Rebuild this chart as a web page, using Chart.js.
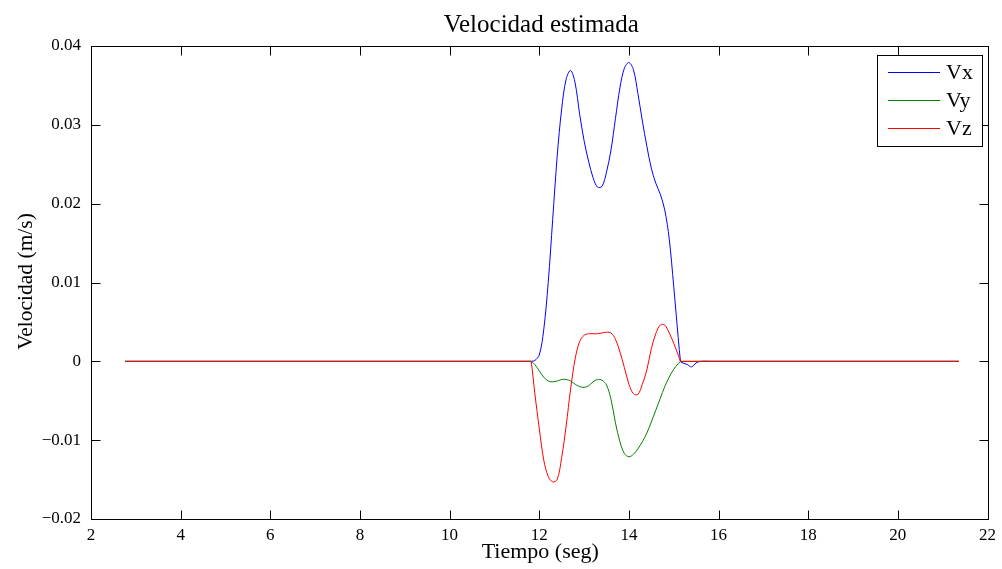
<!DOCTYPE html>
<html>
<head>
<meta charset="utf-8">
<script src="https://cdn.jsdelivr.net/npm/chart.js@4.4.1/dist/chart.umd.min.js"></script>
<style>
html,body{margin:0;padding:0;background:#fff;}
#wrap{width:1002px;height:569px;position:relative;}
</style>
</head>
<body>
<div id="wrap"><canvas id="c" width="1002" height="569"></canvas></div>
<script>
// ---- data ----
const time = [2.76, 11.6, 11.8, 11.82, 11.9, 12.0, 12.1, 12.2, 12.3, 12.4, 12.5, 12.6, 12.7, 12.8, 12.9, 13.0, 13.1, 13.2, 13.3, 13.4, 13.5, 13.6, 13.7, 13.8, 13.9, 14.0, 14.1, 14.2, 14.3, 14.4, 14.5, 14.6, 14.7, 14.8, 14.9, 15.0, 15.1, 15.15, 15.16, 15.3, 15.4, 15.5, 15.6, 15.8, 21.36];
const vx = [0, 0, 0, 0, 0.0001, 0.0008, 0.004, 0.010, 0.018, 0.026, 0.032, 0.0358, 0.0369, 0.0353, 0.0314, 0.0280, 0.0254, 0.0233, 0.0221, 0.0222, 0.0240, 0.0268, 0.0308, 0.0347, 0.0372, 0.0379, 0.0370, 0.034, 0.0305, 0.0273, 0.0245, 0.0226, 0.0212, 0.0192, 0.0155, 0.0095, 0.003, 0, -0.0001, -0.0004, -0.0007, -0.0002, 0, 0, 0];
const vy = [0, 0, 0, 0, -0.0004, -0.0012, -0.002, -0.0025, -0.0026, -0.0025, -0.0023, -0.0023, -0.0025, -0.0029, -0.0032, -0.0033, -0.0031, -0.0026, -0.0023, -0.0024, -0.003, -0.0048, -0.0078, -0.0102, -0.0117, -0.0121, -0.0118, -0.0111, -0.0102, -0.0091, -0.0077, -0.0062, -0.0047, -0.0032, -0.002, -0.001, -0.0003, 0, 0, 0, 0, 0, 0, 0, 0];
const vz = [0, 0, 0, 0, -0.004, -0.0085, -0.0125, -0.0146, -0.0153, -0.0150, -0.0122, -0.0082, -0.0035, 0.0003, 0.0025, 0.0033, 0.0035, 0.0035, 0.0035, 0.0036, 0.0037, 0.0036, 0.0028, 0.0012, -0.0008, -0.0029, -0.0041, -0.0042, -0.0029, -0.0011, 0.0016, 0.0035, 0.0046, 0.0046, 0.0036, 0.0023, 0.0008, 0, 0, 0, 0, 0, 0, 0, 0];
const seriesNames = ['Vx', 'Vy', 'Vz'];
const xTickValues = [2, 4, 6, 8, 10, 12, 14, 16, 18, 20, 22];
const yTickValues = [-0.02, -0.01, 0, 0.01, 0.02, 0.03, 0.04];
const yTickLabels = ['\u22120.02', '\u22120.01', '0', '0.01', '0.02', '0.03', '0.04'];
const chartTitle = 'Velocidad estimada';
const xTitle = 'Tiempo (seg)';
const yTitle = 'Velocidad (m/s)';

const colors = ['#0000ff', '#008000', '#ff0000'];
const drawOrder = [2, 1, 0]; // Vz drawn on top, as in the reference
const FONT = '"Liberation Serif", "DejaVu Serif", serif';

function pts(vals){ return time.map((t,i)=>({x:t, y:vals[i]})); }
const datasets = [vx, vy, vz].map((v,i)=>({
  label: seriesNames[i],
  data: pts(v),
  borderColor: colors[i],
  backgroundColor: colors[i],
  borderWidth: 1,
  pointRadius: 0,
  fill: false,
  order: drawOrder[i],
  tension: 0.35
}));

const chrome = {
  id: 'chrome',
  afterDraw(chart){
    const ctx = chart.ctx;
    const a = chart.chartArea;
    const xs = chart.scales.x, ys = chart.scales.y;
    ctx.save();
    ctx.strokeStyle = '#000';
    ctx.lineWidth = 1;
    const L = Math.round(a.left)+0.5, R = Math.round(a.right)+0.5, T = Math.round(a.top)+0.5, B = Math.round(a.bottom)+0.5;
    ctx.strokeRect(L, T, R-L, B-T);
    const tl = 9;
    ctx.beginPath();
    xTickValues.forEach(v=>{
      const px = Math.round(xs.getPixelForValue(v))+0.5;
      ctx.moveTo(px, B); ctx.lineTo(px, B-tl);
      ctx.moveTo(px, T); ctx.lineTo(px, T+tl);
    });
    yTickValues.forEach(v=>{
      const py = Math.round(ys.getPixelForValue(v))+0.5;
      ctx.moveTo(L, py); ctx.lineTo(L+tl, py);
      ctx.moveTo(R, py); ctx.lineTo(R-tl, py);
    });
    ctx.stroke();
    // titles
    ctx.fillStyle = '#000';
    ctx.textAlign = 'center';
    ctx.textBaseline = 'alphabetic';
    ctx.font = '25px ' + FONT;
    ctx.fillText(chartTitle, (a.left+a.right)/2 + 2, 32);
    ctx.font = '22px ' + FONT;
    ctx.fillText(xTitle, (a.left+a.right)/2 + 1, 558);
    ctx.save();
    ctx.font = '21.5px ' + FONT;
    ctx.translate(32, (a.top+a.bottom)/2 - 1);
    ctx.rotate(-Math.PI/2);
    ctx.fillText(yTitle, 0, 0);
    ctx.restore();
    // legend
    const lx = 877.5, ly = 55.5, lw = 105, lh = 91;
    ctx.fillStyle = '#fff';
    ctx.fillRect(lx, ly, lw, lh);
    ctx.strokeStyle = '#000';
    ctx.strokeRect(lx, ly, lw, lh);
    ctx.font = '22px ' + FONT;
    ctx.textAlign = 'left';
    ctx.textBaseline = 'middle';
    chart.data.datasets.forEach((d,i)=>{
      const y = 72 + i*28;
      ctx.strokeStyle = d.borderColor;
      ctx.beginPath();
      ctx.moveTo(888, y+0.5); ctx.lineTo(940, y+0.5);
      ctx.stroke();
      ctx.fillStyle = '#000';
      ctx.fillText(d.label, 946, y+1);
    });
    ctx.restore();
  }
};

new Chart(document.getElementById('c'), {
  type: 'line',
  data: { datasets },
  options: {
    responsive: false,
    animation: false,
    devicePixelRatio: 1,
    layout: { padding: { left: 0, right: 11, top: 46, bottom: 0 } },
    plugins: { legend: { display: false }, title: { display: false }, tooltip: { enabled: false } },
    scales: {
      x: {
        type: 'linear', min: 2, max: 22,
        afterBuildTicks(s){ s.ticks = xTickValues.map(v=>({value:v})); },
        afterFit(s){ s.height = 50; },
        grid: { display: false, drawTicks: false },
        border: { display: false },
        ticks: { color: '#000', font: { family: FONT, size: 17 }, padding: 6, maxRotation: 0, autoSkip: false,
          callback: v => String(v) }
      },
      y: {
        type: 'linear', min: -0.02, max: 0.04,
        afterBuildTicks(s){ s.ticks = yTickValues.map(v=>({value:v})); },
        afterFit(s){ s.width = 91; },
        grid: { display: false, drawTicks: false },
        border: { display: false },
        ticks: { color: '#000', font: { family: FONT, size: 17 }, padding: 10, autoSkip: false,
          callback: v => { const i = yTickValues.findIndex(t => Math.abs(t - v) < 1e-9); return i >= 0 ? yTickLabels[i] : ''; } }
      }
    }
  },
  plugins: [chrome]
});
</script>
</body>
</html>
